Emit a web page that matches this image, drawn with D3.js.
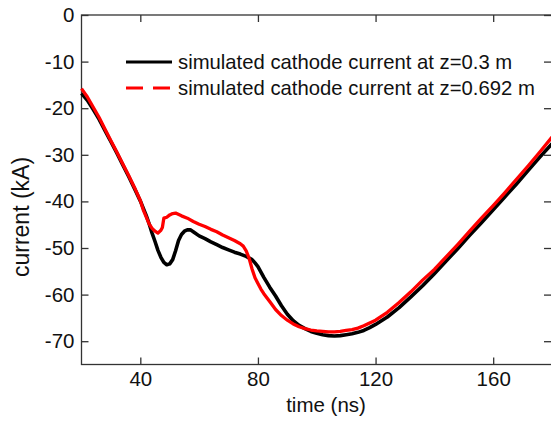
<!DOCTYPE html>
<html>
<head>
<meta charset="utf-8">
<script src="https://cdn.jsdelivr.net/npm/d3@7"></script>
<style>
  body { margin: 0; background: #fff; }
  svg { display: block; font-family: "Liberation Sans", Arial, sans-serif; }
</style>
</head>
<body>
<script>
// time (ns) and current (kA)
var blackT = [20, 22, 24, 26, 28, 30, 32, 34, 36, 38, 40, 42, 43, 44, 45, 46, 47, 48, 49, 50,
  51, 52, 53, 54, 55, 56, 57, 58, 60, 62, 64, 66, 68, 70, 72, 74, 76, 78, 79, 80,
  82, 84, 86, 88, 90, 92, 94, 96, 98, 100, 102, 104, 106, 108, 110, 112, 114, 116, 118, 120,
  124, 128, 132, 136, 140, 144, 148, 152, 156, 160, 164, 168, 172, 176, 180];
var blackV = [-16.8, -18.3, -20.3, -22.4, -24.8, -27.2, -29.6, -32.1, -34.6, -37.2, -39.9, -43.0, -44.8, -46.8, -48.6, -50.5, -52.0, -53.1, -53.6, -53.4,
  -52.5, -50.6, -48.4, -47.1, -46.4, -46.1, -46.1, -46.5, -47.4, -48.0, -48.7, -49.3, -49.9, -50.4, -50.9, -51.3, -51.8, -52.5, -53.2, -54.0,
  -56.3, -58.4, -60.3, -62.4, -64.2, -65.6, -66.6, -67.3, -67.9, -68.3, -68.6, -68.8, -68.9, -68.8, -68.6, -68.4, -68.1, -67.7, -67.1, -66.4,
  -64.8, -62.8, -60.5, -58.1, -55.5, -52.8, -50.1, -47.3, -44.6, -41.8, -39.0, -36.2, -33.3, -30.4, -27.6];

var redT = [20, 22, 24, 26, 28, 30, 32, 34, 36, 38, 40, 41, 42, 43, 44, 45, 46, 47, 47.5, 48,
  49, 50, 51, 52, 54, 56, 58, 60, 62, 64, 66, 68, 70, 72, 74, 75, 76, 77, 78, 79,
  80, 81, 82, 84, 86, 88, 90, 92, 94, 96, 98, 100, 102, 104, 106, 108, 110, 112, 114, 116,
  118, 120, 124, 128, 132, 136, 140, 144, 148, 152, 156, 160, 164, 168, 172, 176, 180];
var redV = [-15.8, -17.6, -19.8, -22.0, -24.5, -27.0, -29.4, -31.9, -34.4, -37.0, -39.8, -41.8, -43.3, -44.8, -45.8, -46.4, -46.8, -46.2, -45.6, -43.6,
  -43.4, -42.9, -42.6, -42.5, -43.1, -43.6, -44.3, -44.9, -45.4, -46.0, -46.5, -47.2, -47.8, -48.4, -49.1, -49.6, -50.6, -52.2, -54.5, -56.4,
  -57.6, -58.8, -59.8, -61.5, -63.2, -64.5, -65.5, -66.3, -66.9, -67.3, -67.6, -67.8, -67.9, -68.0, -68.0, -67.9, -67.7, -67.5, -67.2, -66.7,
  -66.1, -65.5, -63.8, -61.7, -59.4, -56.9, -54.6, -51.9, -49.2, -46.4, -43.6, -40.9, -38.1, -35.2, -32.3, -29.3, -26.2];

var xTicks = [40, 80, 120, 160];
var yTicks = [0, -10, -20, -30, -40, -50, -60, -70];
var legendLabels = ["simulated cathode current at z=0.3 m", "simulated cathode current at z=0.692 m"];

var width = 551, height = 421;
var plotL = 81.5, plotR = 552, plotT = 15, plotB = 364.5;

var svg = d3.select("body").append("svg")
  .attr("width", width)
  .attr("height", height);

var x = d3.scaleLinear().domain([20, 180]).range([plotL, plotR]);
var y = d3.scaleLinear().domain([-75, 0]).range([plotB, plotT]);

function styleAxis(g) {
  g.select(".domain").remove();
  g.selectAll(".tick line").attr("stroke", "#333").attr("stroke-width", 1.3);
  g.selectAll(".tick text").attr("fill", "#111").style("font-size", "20.5px")
    .style("font-family", "'Liberation Sans', Arial, sans-serif");
}

// axes with inward ticks
svg.append("g").attr("transform", "translate(0," + plotB + ")")
  .call(d3.axisBottom(x).tickValues(xTicks).tickSize(-7).tickPadding(7).tickFormat(d3.format("d")))
  .call(styleAxis);
svg.append("g").attr("transform", "translate(0," + plotT + ")")
  .call(d3.axisTop(x).tickValues(xTicks).tickSize(-7).tickFormat(""))
  .call(styleAxis);
svg.append("g").attr("transform", "translate(" + plotL + ",0)")
  .call(d3.axisLeft(y).tickValues(yTicks).tickSize(-7).tickPadding(7).tickFormat(function(d) { return d < 0 ? "-" + Math.abs(d) : d; }))
  .call(styleAxis);
svg.append("g").attr("transform", "translate(" + (plotR - 1) + ",0)")
  .call(d3.axisRight(y).tickValues(yTicks).tickSize(-7).tickFormat(""))
  .call(styleAxis);

// frame
svg.append("rect")
  .attr("x", plotL).attr("y", plotT)
  .attr("width", plotR - plotL).attr("height", plotB - plotT)
  .attr("fill", "none").attr("stroke", "#333").attr("stroke-width", 1.3);

var line = d3.line()
  .x(function(d) { return x(d[0]); })
  .y(function(d) { return y(d[1]); });

var blackData = blackT.map(function(t, i) { return [t, blackV[i]]; });
var redData = redT.map(function(t, i) { return [t, redV[i]]; });

svg.append("path").datum(blackData)
  .attr("d", line)
  .attr("fill", "none")
  .attr("stroke", "#000")
  .attr("stroke-width", 3.6)
  .attr("stroke-linejoin", "round");

svg.append("path").datum(redData)
  .attr("d", line)
  .attr("fill", "none")
  .attr("stroke", "#ff0000")
  .attr("stroke-width", 3.3)
  .attr("stroke-linejoin", "round");

// legend
var legend = svg.append("g");
legend.append("line")
  .attr("x1", 126).attr("x2", 172).attr("y1", 62).attr("y2", 62)
  .attr("stroke", "#000").attr("stroke-width", 3);
legend.append("line")
  .attr("x1", 126).attr("x2", 172).attr("y1", 88).attr("y2", 88)
  .attr("stroke", "#ff0000").attr("stroke-width", 3)
  .attr("stroke-dasharray", "17,10");
legend.selectAll("text.leg")
  .data(legendLabels)
  .enter()
  .append("text")
  .attr("class", "leg")
  .attr("x", 178)
  .attr("y", function(d, i) { return 69 + i * 26; })
  .attr("fill", "#111")
  .style("font-size", "20.3px")
  .text(function(d) { return d; });

// axis titles
svg.append("text")
  .attr("x", 326).attr("y", 412)
  .attr("text-anchor", "middle")
  .attr("fill", "#111")
  .style("font-size", "20.5px")
  .text("time (ns)");

svg.append("text")
  .attr("transform", "translate(29," + 217 + ") rotate(-90)")
  .attr("text-anchor", "middle")
  .attr("fill", "#111")
  .style("font-size", "23px")
  .text("current (kA)");
</script>
</body>
</html>
